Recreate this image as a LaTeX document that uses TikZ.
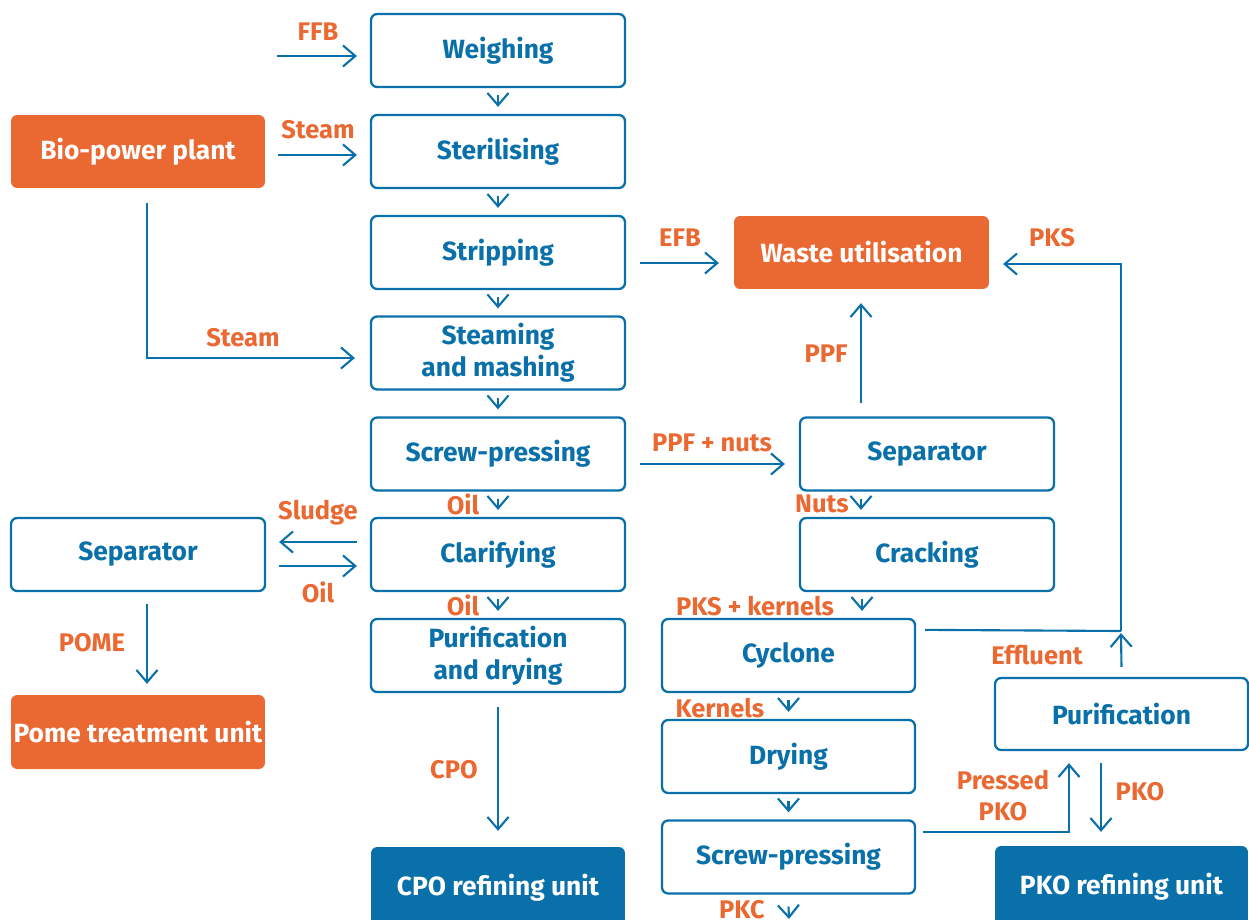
\documentclass[tikz,border=0pt]{standalone}
\usepackage{fontspec}
\setmainfont{Fira Sans}
\usetikzlibrary{arrows.meta,calc}
\definecolor{myblue}{HTML}{0A70A9}
\definecolor{myorange}{HTML}{EA6832}
\tikzset{
  box/.style={draw=myblue, line width=1.3pt, rounded corners=3.5pt, fill=white,
    minimum width=5.08cm, minimum height=1.46cm, inner sep=0pt, text=myblue,
    font=\fontsize{15}{18}\selectfont\bfseries, align=center},
  obox/.style={box, draw=none, fill=myorange, text=white},
  bbox/.style={box, draw=none, fill=myblue, text=white},
  lbl/.style={text=myorange, font=\fontsize{14.5}{17.6}\selectfont\bfseries, align=center, inner sep=0pt},
  arr/.style={draw=myblue, line width=1.2pt, -{Straight Barb[length=7pt,width=12pt,line width=1.2pt]}},
  ln/.style={draw=myblue, line width=1.2pt}
}
\begin{document}
\begin{tikzpicture}[x=0.02cm,y=-0.02cm]
\useasboundingbox (0,0) rectangle (1249,920);
\clip (0,0) rectangle (1249,920);
% main column
\node[box] (weigh) at (498,50.5) {Weighing};
\node[box] (steril) at (498,151.5) {Sterilising};
\node[box] (strip) at (498,252.5) {Stripping};
\node[box] (steam) at (498,353) {Steaming\\and mashing};
\node[box] (screw) at (498,454) {Screw-pressing};
\node[box] (clar) at (498,554.5) {Clarifying};
\node[box] (purdry) at (498,655.5) {Purification\\and drying};
\node[bbox, minimum height=1.64cm] (cpo) at (498,888) {CPO refining unit};
% left column
\node[obox] (bio) at (138,151.5) {Bio-power plant};
\node[box] (sepl) at (138,554.5) {Separator};
\node[obox, minimum height=1.48cm] (pome) at (138,732) {Pome treatment unit};
% right
\node[obox, minimum width=5.1cm] (waste) at (861.5,252.5) {Waste utilisation};
\node[box] (sepr) at (927,454) {Separator};
\node[box] (crack) at (927,554.5) {Cracking};
\node[box, minimum width=5.06cm] (cyc) at (788.5,655.5) {Cyclone};
\node[box, minimum width=5.06cm] (dry) at (788.5,756.5) {Drying};
\node[box, minimum width=5.06cm] (screw2) at (788.5,857) {Screw-pressing};
\node[box, minimum width=5.06cm, minimum height=1.44cm] (purr) at (1121.5,714) {Purification};
\node[bbox, minimum width=5.06cm, minimum height=1.64cm] (pko) at (1121.5,887) {PKO refining unit};

% vertical small arrows main column
\foreach \a/\b in {weigh/steril,steril/strip,strip/steam,steam/screw,screw/clar,clar/purdry}{
  \draw[arr] ($(\a.south)+(0,7)$) -- ($(\b.north)+(0,-7)$);
}
% FFB
\coordinate (ffbin) at (277,56);
\draw[arr] (ffbin) -- ($(weigh.west |- ffbin)+(-13,0)$);
\node[lbl] (lffb) at (318,32) {FFB};
% Steam to sterilising
\draw[arr] ($(bio.east |- 0,155)+(12,0)$) -- ($(steril.west |- 0,155)+(-13,0)$);
\node[lbl] (lsteam1) at (318,130) {Steam};
% Steam to steaming
\draw[arr] ($(bio.south)+(9,14)$) |- ($(steam.west |- 0,358)+(-15,0)$);
\node[lbl] (lsteam2) at (243,338) {Steam};
% EFB
\draw[arr] ($(strip.east |- 0,263)+(14,0)$) -- ($(waste.west |- 0,263)+(-14,0)$);
\node[lbl] (lefb) at (680,238) {EFB};
% PPF + nuts
\draw[arr] ($(screw.east |- 0,464)+(14,0)$) -- ($(sepr.west |- 0,464)+(-14,0)$);
\node[lbl] (lppfn) at (712,443) {PPF + nuts};
% PPF
\draw[arr] ($(sepr.north -| 861,0)+(0,-13)$) -- ($(waste.south -| 861,0)+(0,13)$);
\node[lbl] (lppf) at (826,354) {PPF};
% Oil / Nuts small
\node[lbl] (loil1) at (463,504) {Oil};
\draw[arr] ($(sepr.south -| 861,0)+(0,7)$) -- ($(crack.north -| 861,0)+(0,-7)$);
\node[lbl] (lnuts) at (822,504) {Nuts};
% Sludge / Oil
\draw[arr] ($(clar.west |- 0,542)+(-13,0)$) -- ($(sepl.east |- 0,542)+(13,0)$);
\draw[arr] ($(sepl.east |- 0,566)+(13,0)$) -- ($(clar.west |- 0,566)+(-13,0)$);
\node[lbl] (lsludge) at (318,513) {Sludge};
\node[lbl] (loil2) at (318,592) {Oil};
\node[lbl] (loil3) at (463,605) {Oil};
% POME
\draw[arr] ($(sepl.south)+(9,12)$) -- ($(pome.north)+(9,-10)$);
\node[lbl] (lpome) at (92,643) {POME};
% CPO
\draw[arr] ($(purdry.south)+(0,14)$) -- ($(cpo.north)+(0,-15)$);
\node[lbl] (lcpo) at (454,770) {CPO};
% PKS + kernels
\draw[arr] ($(crack.south -| 862,0)+(0,7)$) -- ($(cyc.north -| 862,0)+(0,-7)$);
\node[lbl] (lpksk) at (755,606) {PKS + kernels};
% Kernels
\draw[arr] ($(cyc.south)+(0,7)$) -- ($(dry.north)+(0,-7)$);
\node[lbl] (lkern) at (720,708) {Kernels};
\draw[arr] ($(dry.south)+(0,7)$) -- ($(screw2.north)+(0,-7)$);
% PKC
\coordinate (pkcout) at (789,919);
\draw[arr] ($(screw2.south)+(0,12)$) -- (pkcout);
\node[lbl] (lpkc) at (742,910) {PKC};
% Cyclone / effluent -> waste (PKS)
\coordinate (junc) at (1121,631);
\draw[ln] ($(cyc.north east)+(9,12)$) -- (junc);
\draw[arr] (junc) -- (1121,264) -- ($(waste.east |- 0,264)+(13,0)$);
\draw[arr] ($(purr.north)+(0,-10)$) -- ($(junc)+(0,2)$);
\node[lbl] (lpks) at (1052,238) {PKS};
\node[lbl] (leff) at (1037,655) {Effluent};
% Pressed PKO
\draw[arr] ($(screw2.north east)+(7,13)$) -| ($(purr.south -| 1069,0)+(0,12)$);
\node[lbl] (lpress) at (1003,796) {Pressed\\PKO};
% PKO
\draw[arr] ($(purr.south -| 1101,0)+(0,12)$) -- ($(pko.north -| 1101,0)+(0,-13)$);
\node[lbl] (lpko) at (1140,792) {PKO};
\end{tikzpicture}
\end{document}
